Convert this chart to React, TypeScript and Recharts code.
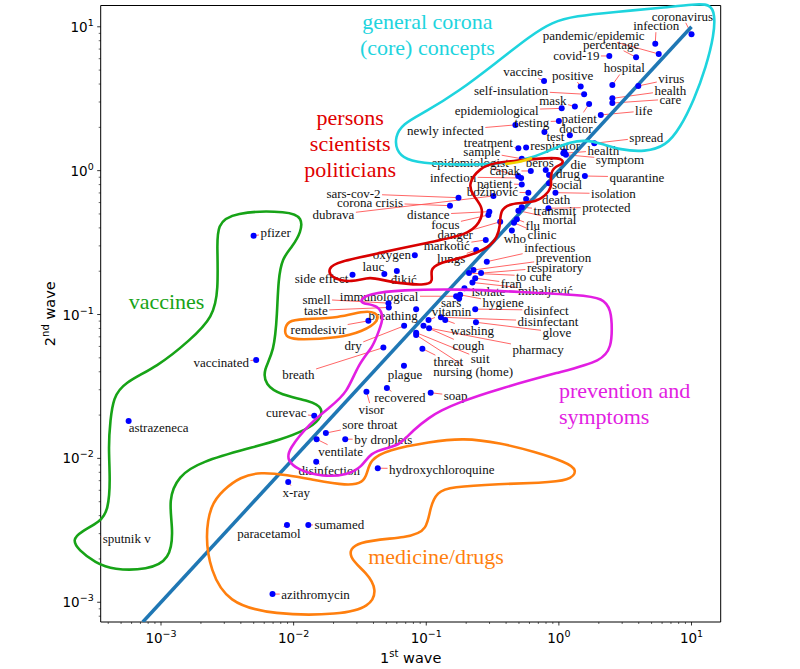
import React from 'react';
import { ScatterChart, Scatter, XAxis, YAxis, ReferenceLine } from 'recharts';

// ---------------- data ----------------
const terms = [
  'coronavirus', 'infection', 'pandemic/epidemic', 'percentage', 'covid-19', 'hospital', 'vaccine', 'positive', 'virus', 'self-insulation',
  'health', 'care', 'mask', 'patient', 'epidemiological', 'life', 'testing', 'newly infected', 'doctor', 'test',
  'spread', 'treatment', 'respirator', 'health', 'symptom', 'die', 'sample', 'epidemiologist', 'beroš', 'capak',
  'drug', 'quarantine', 'infection', 'patient', 'social', 'božinović', 'isolation', 'death', 'protected', 'transmit',
  'mortal', 'flu', 'clinic', 'who', 'sars-cov-2', 'corona crisis', 'dubrava', 'distance', 'focus', 'danger',
  'markotić', 'lungs', 'oxygen', 'lauc', 'đikić', 'side effect', 'infectious', 'prevention', 'respiratory', 'to cure',
  'fran', 'mihaljević', 'isolate', 'hygiene', 'sars', 'immunological', 'smell', 'taste', 'breathing', 'disinfect',
  'vitamin', 'disinfectant', 'washing', 'glove', 'remdesivir', 'dry', 'cough', 'pharmacy', 'suit', 'nursing (home)',
  'breath', 'threat', 'plague', 'recovered', 'visor', 'soap', 'curevac', 'sore throat', 'by droplets', 'ventilate',
  'disinfection', 'hydroxychloroquine', 'x-ray', 'paracetamol', 'sumamed', 'azithromycin', 'astrazeneca', 'pfizer', 'vaccinated', 'sputnik v',
];

const firstWave = [
  10.0, 5.33, 5.66, 3.82, 2.40, 2.53, 0.773, 1.46, 3.97, 1.55,
  2.53, 2.53, 1.32, 1.69, 1.05, 2.07, 1.00, 0.470, 1.21, 0.778,
  1.85, 0.495, 0.566, 1.08, 1.13, 1.10, 0.525, 0.493, 0.796, 0.614,
  0.843, 1.57, 0.519, 0.525, 0.843, 0.589, 0.942, 0.566, 0.834, 0.525,
  0.495, 0.482, 0.459, 0.442, 0.175, 0.151, 0.321, 0.299, 0.294, 0.361,
  0.281, 0.238, 0.0820, 0.0483, 0.0600, 0.0278, 0.286, 0.227, 0.259, 0.210,
  0.234, 0.223, 0.194, 0.180, 0.177, 0.168, 0.0519, 0.0522, 0.0839, 0.234,
  0.104, 0.129, 0.139, 0.237, 0.0366, 0.0681, 0.0953, 0.105, 0.0839, 0.0839,
  0.0475, 0.0935, 0.0679, 0.0505, 0.0354, 0.108, 0.0143, 0.0175, 0.0245, 0.0149,
  0.0148, 0.0431, 0.00910, 0.00891, 0.0129, 0.00693, 0.000570, 0.00499, 0.00522, 0.00030,
];

const secondWave = [
  8.87, 7.63, 6.47, 6.14, 6.27, 3.94, 4.20, 3.84, 3.88, 3.40,
  3.18, 2.95, 2.79, 2.91, 2.71, 2.44, 2.21, 2.08, 1.76, 1.86,
  1.55, 1.43, 1.45, 1.32, 1.29, 1.36, 1.21, 0.918, 1.01, 0.995,
  0.933, 0.918, 0.889, 0.802, 0.817, 0.703, 0.703, 0.635, 0.548, 0.557,
  0.527, 0.459, 0.434, 0.384, 0.649, 0.571, 0.667, 0.519, 0.492, 0.441,
  0.330, 0.281, 0.258, 0.191, 0.201, 0.189, 0.233, 0.204, 0.194, 0.194,
  0.179, 0.167, 0.152, 0.137, 0.129, 0.134, 0.120, 0.112, 0.109, 0.109,
  0.0916, 0.0957, 0.0916, 0.0883, 0.0904, 0.0834, 0.0834, 0.0804, 0.0748, 0.0721,
  0.0589, 0.0579, 0.0440, 0.0309, 0.0291, 0.0286, 0.0198, 0.0150, 0.0136, 0.0136,
  0.00946, 0.00855, 0.00684, 0.00344, 0.00344, 0.00114, 0.0182, 0.353, 0.0483, 0.0029,
];

const xTickExponents = [-3, -2, -1, 0, 1];
const yTickExponents = [-3, -2, -1, 0, 1];
const minorMultipliers = [2, 3, 4, 5, 6, 7, 8, 9];

const X_DOMAIN: [number, number] = [0.000351, 16.6];
const Y_DOMAIN: [number, number] = [0.000729, 14.06];
const diagonalEnds = [0.000729, 10];

const clusterTitles = ['general corona\n(core) concepts', 'persons\nscientists\npoliticians', 'vaccines', 'prevention and\nsymptoms', 'medicine/drugs'];
const clusterTitleX = [0.102, 0.0267, 0.00110, 1.0, 0.0365];
const clusterTitleY = [11.0, 2.36, 0.124, 0.0299, 0.0021];

// hand-drawn cluster outlines, in log10(1st wave), log10(2nd wave)
const coronaOutlineLog = [
  [-1.234, 0.234], [-1.182, 0.324], [-1.008, 0.408], [-0.76, 0.547], [-0.466, 0.755], [-0.217, 0.936], [-0.051, 1.033], [0.122, 1.075],
  [0.424, 1.103], [0.763, 1.131], [1.027, 1.158], [1.14, 1.158], [1.177, 1.089], [1.17, 0.943], [1.11, 0.721], [1.019, 0.491],
  [0.914, 0.297], [0.808, 0.172], [0.65, 0.13], [0.462, 0.144], [0.311, 0.192], [0.198, 0.213], [0.085, 0.199], [-0.028, 0.158],
  [-0.179, 0.095], [-0.368, 0.053], [-0.669, 0.039], [-0.971, 0.046], [-1.159, 0.074], [-1.227, 0.144],
];
const personsOutlineLog = [
  [-0.594, 0.019], [-0.496, 0.053], [-0.292, 0.074], [-0.088, 0.088], [0.024, 0.088], [0.039, 0.046], [-0.043, 0.026], [-0.066, -0.044],
  [-0.051, -0.113], [-0.103, -0.176], [-0.194, -0.225], [-0.368, -0.225], [-0.443, -0.273], [-0.443, -0.391], [-0.466, -0.461], [-0.518, -0.53],
  [-0.692, -0.6], [-0.918, -0.642], [-0.971, -0.69], [-0.948, -0.767], [-0.993, -0.801], [-1.295, -0.774], [-1.423, -0.732], [-1.558, -0.78],
  [-1.724, -0.746], [-1.739, -0.676], [-1.671, -0.635], [-1.347, -0.572], [-0.971, -0.496], [-0.692, -0.447], [-0.594, -0.364], [-0.564, -0.259],
  [-0.654, -0.169], [-0.684, -0.086],
];
const yellowMarkLog = [[-0.405, 0.046], [-0.307, 0.06], [-0.202, 0.088]];
const vaccinesOutlineLog = [
  [-2.576, -0.377], [-2.463, -0.287], [-2.026, -0.28], [-1.935, -0.329], [-1.943, -0.426], [-2.011, -0.53], [-2.086, -0.607], [-2.116, -0.76],
  [-2.124, -0.989], [-2.146, -1.26], [-2.229, -1.385], [-2.214, -1.489], [-2.101, -1.559], [-1.875, -1.6], [-1.777, -1.649], [-1.8, -1.732],
  [-1.905, -1.802], [-2.101, -1.871], [-2.327, -1.927], [-2.704, -2.024], [-2.87, -2.122], [-2.945, -2.288], [-2.907, -2.497], [-2.93, -2.705],
  [-3.103, -2.775], [-3.359, -2.775], [-3.495, -2.726], [-3.623, -2.636], [-3.668, -2.566], [-3.608, -2.511], [-3.457, -2.441], [-3.397, -2.358],
  [-3.382, -2.149], [-3.397, -1.92], [-3.382, -1.732], [-3.359, -1.58], [-3.284, -1.475], [-3.028, -1.364], [-2.779, -1.177], [-2.606, -1.017],
  [-2.568, -0.829], [-2.576, -0.53],
];
const preventionOutlineLog = [
  [-1.498, -0.899], [-1.438, -0.857], [-1.197, -0.829], [-0.744, -0.822], [-0.292, -0.843], [0.16, -0.864], [0.333, -0.885], [0.394, -0.968],
  [0.401, -1.107], [0.394, -1.218], [0.333, -1.323], [0.009, -1.399], [-0.481, -1.524], [-0.744, -1.607], [-0.895, -1.67], [-0.971, -1.712],
  [-1.099, -1.802], [-1.197, -1.906], [-1.295, -1.927], [-1.423, -1.962], [-1.483, -2.059], [-1.596, -2.115], [-1.777, -2.129], [-1.973, -2.08],
  [-2.048, -2.01], [-2.041, -1.941], [-1.875, -1.753], [-1.724, -1.642], [-1.596, -1.545], [-1.513, -1.343], [-1.4, -1.225], [-1.362, -1.121],
  [-1.317, -1.024], [-1.362, -0.933], [-1.483, -0.926],
];
const remdesivirOutlineLog = [
  [-2.071, -1.107], [-2.041, -1.045], [-1.95, -1.031], [-1.649, -1.024], [-1.483, -0.975], [-1.378, -0.982], [-1.347, -1.038], [-1.483, -1.121],
  [-1.671, -1.163], [-1.95, -1.177], [-2.056, -1.163],
];
const medicineOutlineLog = [
  [-2.666, -2.546], [-2.628, -2.323], [-2.531, -2.219], [-2.402, -2.129], [-2.252, -2.094], [-2.048, -2.115], [-1.852, -2.149], [-1.596, -2.191],
  [-1.475, -2.17], [-1.445, -2.101], [-1.423, -2.01], [-1.295, -1.941], [-0.971, -1.885], [-0.722, -1.858], [-0.443, -1.892], [-0.179, -1.955],
  [0.047, -2.024], [0.145, -2.08], [0.085, -2.156], [-0.141, -2.17], [-0.443, -2.177], [-0.82, -2.198], [-0.918, -2.233], [-0.971, -2.337],
  [-0.993, -2.497], [-1.121, -2.552], [-1.551, -2.573], [-1.596, -2.685], [-1.445, -2.796], [-1.37, -2.914], [-1.423, -3.032], [-1.649, -3.088],
  [-2.154, -3.088], [-2.5, -3.004], [-2.628, -2.775],
];

// ---------------- layout (label offsets from the point, px) ----------------
const labelOffsets: [number, number][] = [
  [-9, -18], [1, -18], [-65, -18], [-25, -13], [-33, 0], [12, -17], [-21, -9], [-8, -11], [33, -7], [-73, -4],
  [58, -8], [58, -4], [-22, -6], [-10, 15], [-65, 2], [43, -4], [-27, 1], [-70, 6], [6, -7], [11, 5],
  [52, -6], [-30, -6], [29, -2], [40, -3], [54, 5], [14, 13], [-40, -7], [-48, -14], [-6, -8], [-26, 0],
  [19, -1], [52, 1], [-68, -1], [-27, -1], [18, 1], [-36, -1], [58, 1], [30, 0], [58, -1], [33, 3],
  [41, 9], [16, 6], [28, 12], [3, 8], [-105, -4], [-80, -3], [-160, 19], [-61, 3], [-43, 10], [-45, 13],
  [-39, 6], [-25, 9], [-23, -1], [-11, -8], [7, 9], [-31, 4], [63, -14], [90, -12], [74, -6], [65, 3],
  [36, 5], [73, 8], [24, 3], [43, 8], [-8, 4], [-77, 0], [-72, -4], [-73, 3], [-23, 6], [71, 1],
  [23, -9], [107, 4], [27, 10], [81, 10], [-50, 9], [-51, 20], [45, 20], [109, 21], [64, 26], [57, 37],
  [-85, 27], [26, 13], [1, 9], [13, 10], [5, 18], [25, 3], [-28, -3], [44, -9], [38, 0], [24, 12],
  [13, 9], [64, 1], [8, 10], [-18, 8], [31, -1], [43, 0], [30, 7], [22, -3], [-35, 3], [35, 3],
];

const clusterColors = ['#1ed4de', '#e00000', '#17a317', '#e21ee2', '#ff7f0e'];
const clusterAnchors = ['middle', 'middle', 'middle', 'start', 'start'];

const LABEL_FONT = '"Liberation Serif", "Times New Roman", serif';
const LABEL_SIZE = 13;
const TICK_FONT = '"DejaVu Sans", sans-serif';

// ---------------- helpers ----------------
const points = terms.map((name, i) => ({ name, x: firstWave[i], y: secondWave[i], i }));
const titlePoints = clusterTitles.map((text, i) => ({ text, x: clusterTitleX[i], y: clusterTitleY[i], i }));
const fromLog = (arr: number[][]) => arr.map(([a, b]) => ({ x: Math.pow(10, a), y: Math.pow(10, b) }));

const buildTicks = (exps: number[], dom: [number, number]) => {
  const out: number[] = [];
  for (let e = exps[0] - 1; e <= exps[exps.length - 1]; e++) {
    const base = Math.pow(10, e);
    if (base >= dom[0] && base <= dom[1]) out.push(base);
    minorMultipliers.forEach((m) => {
      const v = m * base;
      if (v >= dom[0] && v <= dom[1]) out.push(v);
    });
  }
  return out.sort((a, b) => a - b);
};
const xTicks = buildTicks(xTickExponents, X_DOMAIN);
const yTicks = buildTicks(yTickExponents, Y_DOMAIN);

const isMajor = (v: number) => {
  const lg = Math.log10(v);
  return Math.abs(lg - Math.round(lg)) < 1e-9;
};
const expText = (v: number) => {
  const e = Math.round(Math.log10(v));
  return e < 0 ? '\u2212' + Math.abs(e) : String(e);
};

let ctx: CanvasRenderingContext2D | null = null;
const measure = (s: string) => {
  if (!ctx && typeof document !== 'undefined') {
    ctx = document.createElement('canvas').getContext('2d');
  }
  if (!ctx) return s.length * 6;
  ctx.font = `${LABEL_SIZE}px ${LABEL_FONT}`;
  return ctx.measureText(s).width;
};

const XTick = (props: any) => {
  const { x, y, payload } = props;
  const v = payload.value;
  const major = isMajor(v);
  return (
    <g>
      <line x1={x} x2={x} y1={y} y2={y + (major ? 3.5 : 2)} stroke="#000" strokeWidth={major ? 0.8 : 0.6} />
      {major && (
        <text x={x} y={y + 21} textAnchor="middle" fontFamily={TICK_FONT} fontSize={13.5} fill="#000">
          <tspan>10</tspan>
          <tspan dy={-6} fontSize={9.5}>{expText(v)}</tspan>
        </text>
      )}
    </g>
  );
};

const YTick = (props: any) => {
  const { x, y, payload } = props;
  const v = payload.value;
  const major = isMajor(v);
  return (
    <g>
      <line x1={x} x2={x - (major ? 3.5 : 2)} y1={y} y2={y} stroke="#000" strokeWidth={major ? 0.8 : 0.6} />
      {major && (
        <text x={x - 7} y={y + 5} textAnchor="end" fontFamily={TICK_FONT} fontSize={13.5} fill="#000">
          <tspan>10</tspan>
          <tspan dy={-6} fontSize={9.5}>{expText(v)}</tspan>
        </text>
      )}
    </g>
  );
};

const XTitle = (props: any) => {
  const vb = props.viewBox || { x: 100.7, y: 622, width: 620, height: 47 };
  return (
    <text x={vb.x + vb.width / 2} y={vb.y + 41} textAnchor="middle" fontFamily={TICK_FONT} fontSize={14.5} fill="#000">
      <tspan>1</tspan>
      <tspan dy={-6} fontSize={10}>st</tspan>
      <tspan dy={6}> wave</tspan>
    </text>
  );
};

const YTitle = (props: any) => {
  const vb = props.viewBox || { x: 0, y: 5.5, width: 100.7, height: 616.5 };
  const cx = vb.x + 55;
  const cy = vb.y + vb.height / 2;
  return (
    <text x={cx} y={cy} transform={`rotate(-90, ${cx}, ${cy})`} textAnchor="middle" fontFamily={TICK_FONT} fontSize={14.5} fill="#000">
      <tspan>2</tspan>
      <tspan dy={-6} fontSize={10}>nd</tspan>
      <tspan dy={6}> wave</tspan>
    </text>
  );
};

const Empty = () => <g />;

const LeaderShape = (props: any) => {
  const { cx, cy, payload } = props;
  if (cx == null || cy == null) return <g />;
  const [dx, dy] = labelOffsets[payload.i];
  const lx = cx + dx;
  const ly = cy + dy;
  const hw = measure(payload.name) / 2 + 1.5;
  const hh = 6.5;
  const ddx = cx - lx;
  const ddy = cy - ly;
  if (Math.abs(ddx) <= hw && Math.abs(ddy) <= hh) return <g />;
  const t = Math.min(ddx !== 0 ? hw / Math.abs(ddx) : Infinity, ddy !== 0 ? hh / Math.abs(ddy) : Infinity);
  return <line x1={lx + t * ddx} y1={ly + t * ddy} x2={cx} y2={cy} stroke="#ff5555" strokeWidth={0.9} />;
};

const DotShape = (props: any) => {
  const { cx, cy } = props;
  if (cx == null || cy == null) return <g />;
  return <circle cx={cx} cy={cy} r={3} fill="#0000ff" />;
};

const LabelShape = (props: any) => {
  const { cx, cy, payload } = props;
  if (cx == null || cy == null) return <g />;
  const [dx, dy] = labelOffsets[payload.i];
  return (
    <text x={cx + dx} y={cy + dy} textAnchor="middle" dominantBaseline="central" fontFamily={LABEL_FONT} fontSize={LABEL_SIZE} fill="#111">
      {payload.name}
    </text>
  );
};

const TitleShape = (props: any) => {
  const { cx, cy, payload } = props;
  if (cx == null || cy == null) return <g />;
  const lines = String(payload.text).split('\n');
  return (
    <text x={cx} y={cy} textAnchor={clusterAnchors[payload.i] as any} dominantBaseline="central" fontFamily={LABEL_FONT} fontSize={22} fill={clusterColors[payload.i]}>
      {lines.map((l, k) => (
        <tspan key={k} x={cx} dy={k === 0 ? 0 : 26}>{l}</tspan>
      ))}
    </text>
  );
};

const outlines = [
  { key: 'corona', pts: coronaOutlineLog, color: clusterColors[0], type: 'basisClosed' },
  { key: 'persons', pts: personsOutlineLog, color: '#d80000', type: 'basisClosed' },
  { key: 'yellow', pts: yellowMarkLog, color: '#f2d200', type: 'monotoneX' },
  { key: 'vaccines', pts: vaccinesOutlineLog, color: clusterColors[2], type: 'basisClosed' },
  { key: 'prevention', pts: preventionOutlineLog, color: clusterColors[3], type: 'basisClosed' },
  { key: 'remdesivir', pts: remdesivirOutlineLog, color: clusterColors[4], type: 'basisClosed' },
  { key: 'medicine', pts: medicineOutlineLog, color: clusterColors[4], type: 'basisClosed' },
];

export default function App() {
  return (
    <div style={{ position: 'absolute', left: 0, top: 0, width: 800, height: 669, background: '#fff' }}>
      <style>{`.no-clip, .no-clip * { clip-path: none !important; }`}</style>
      <ScatterChart width={800} height={669} margin={{ top: 5.5, right: 79.3, bottom: 0, left: 0 }}>
        <XAxis
          type="number"
          dataKey="x"
          scale="log"
          domain={X_DOMAIN}
          allowDataOverflow
          ticks={xTicks}
          interval={0}
          tickSize={0}
          tickMargin={0}
          tickLine={false}
          tick={(p: any) => <XTick {...p} />}
          axisLine={{ stroke: '#000', strokeWidth: 1 }}
          height={47}
          label={<XTitle />}
        />
        <YAxis
          type="number"
          dataKey="y"
          scale="log"
          domain={Y_DOMAIN}
          allowDataOverflow
          ticks={yTicks}
          interval={0}
          tickSize={0}
          tickMargin={0}
          tickLine={false}
          tick={(p: any) => <YTick {...p} />}
          axisLine={{ stroke: '#000', strokeWidth: 1 }}
          width={100.7}
          label={<YTitle />}
        />
        <ReferenceLine y={Y_DOMAIN[1]} stroke="#000" strokeWidth={1} ifOverflow="visible" />
        <ReferenceLine x={X_DOMAIN[1]} stroke="#000" strokeWidth={1} ifOverflow="visible" />

        <Scatter data={points} shape={LeaderShape} isAnimationActive={false} legendType="none" />
        <Scatter
          data={diagonalEnds.map((v) => ({ x: v, y: v }))}
          line={{ stroke: '#1f77b4', strokeWidth: 3.5 }}
          lineType="joint"
          lineJointType="linear"
          shape={Empty}
          isAnimationActive={false}
          legendType="none"
        />
        <Scatter data={points} shape={DotShape} isAnimationActive={false} legendType="none" />
        <Scatter data={points} shape={LabelShape} isAnimationActive={false} legendType="none" />

        {outlines.map((o) => (
          <Scatter
            key={o.key}
            data={fromLog(o.pts)}
            line={{ stroke: o.color, strokeWidth: 2.6 }}
            lineType="joint"
            lineJointType={o.type as any}
            shape={Empty}
            className="no-clip"
            isAnimationActive={false}
            legendType="none"
          />
        ))}

        <Scatter data={titlePoints} shape={TitleShape} className="no-clip" isAnimationActive={false} legendType="none" />
      </ScatterChart>
    </div>
  );
}
